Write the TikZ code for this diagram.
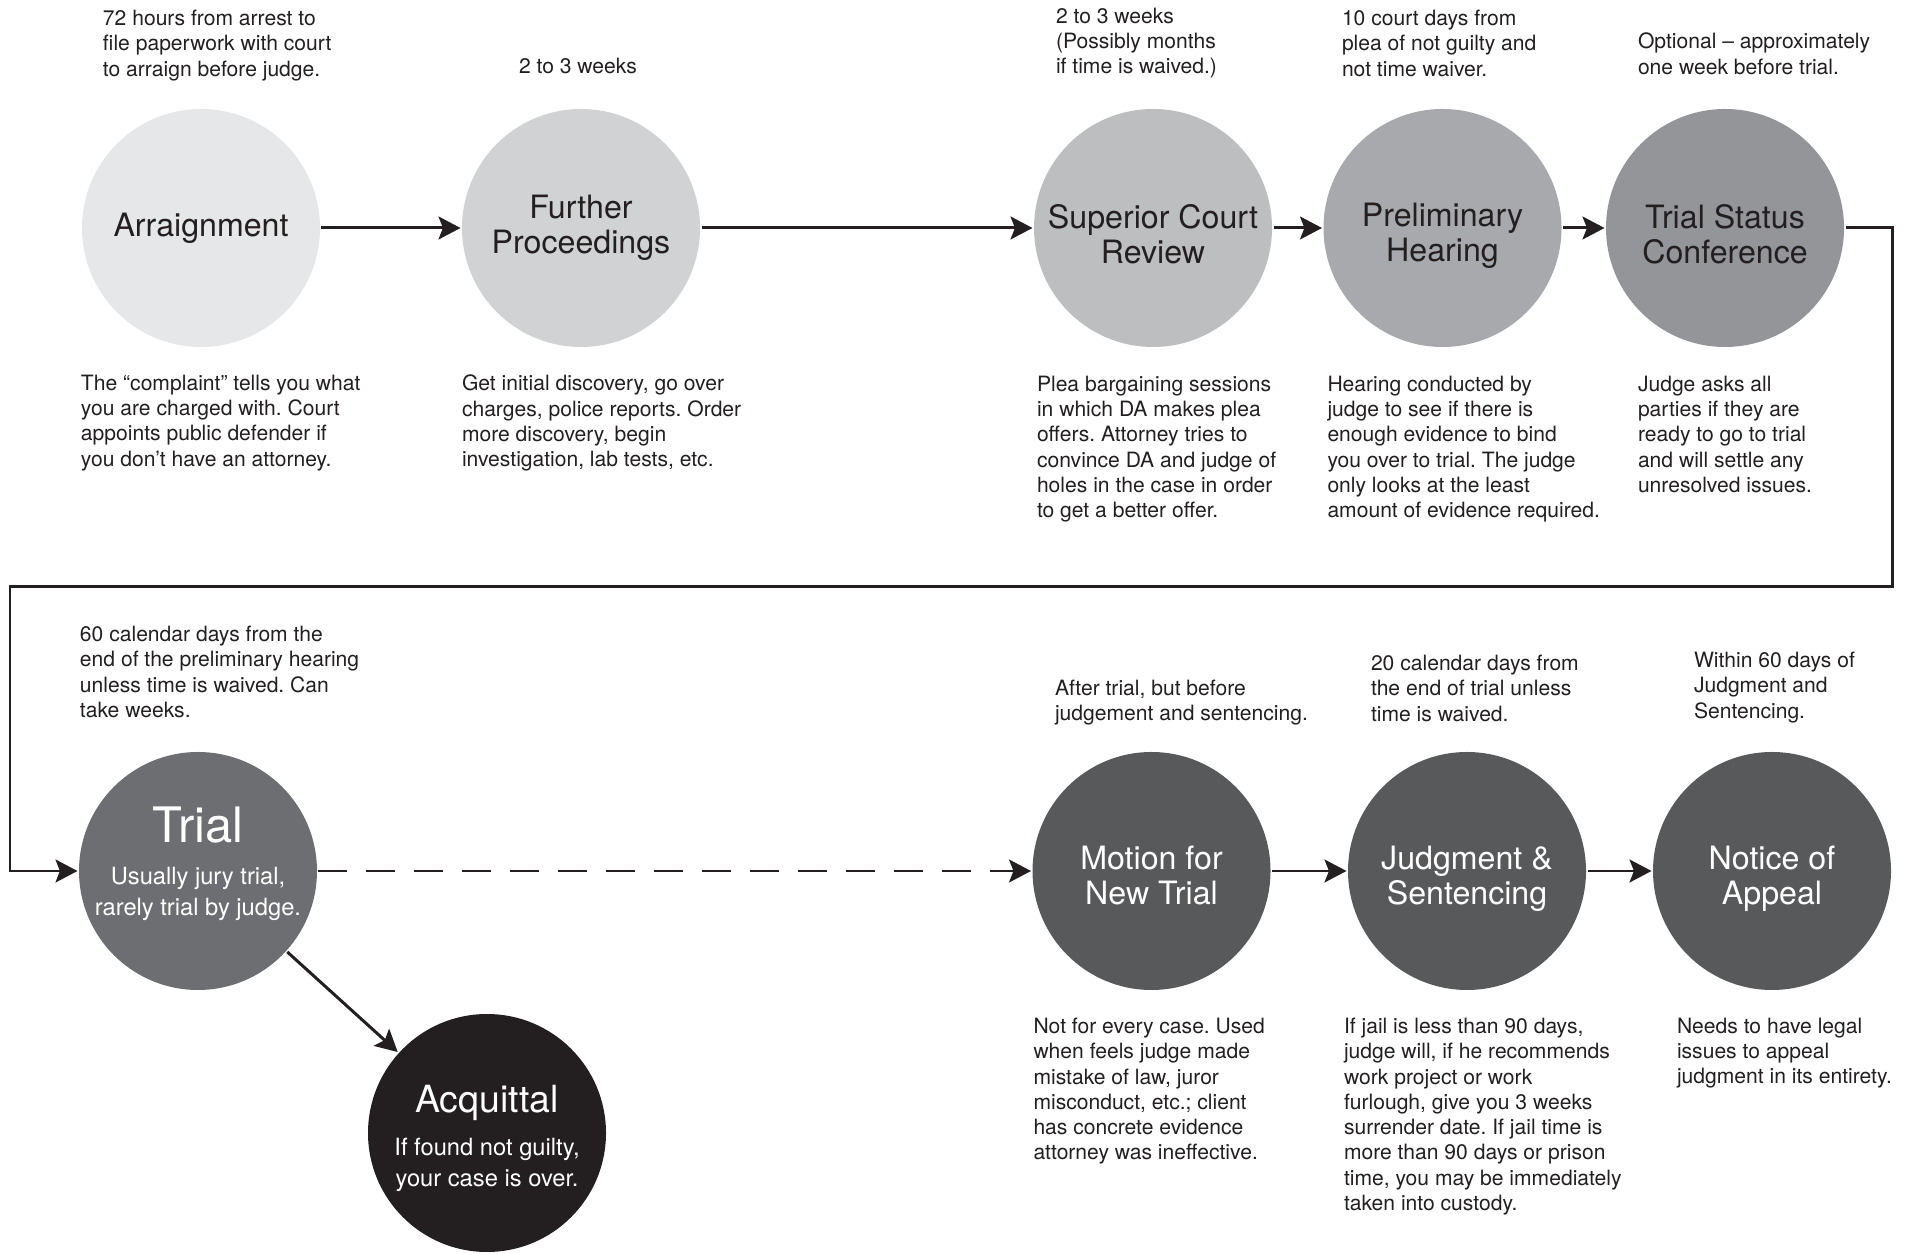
\documentclass[tikz,border=0pt]{standalone}
\usepackage{fontspec}
\setmainfont{TeX Gyre Heros}
\usepackage{tikz}
\usetikzlibrary{arrows.meta}
\frenchspacing
\definecolor{ink}{HTML}{231F20}
\definecolor{tint10}{HTML}{E6E7E8}
\definecolor{tint20}{HTML}{D1D2D4}
\definecolor{tint30}{HTML}{BCBEC0}
\definecolor{tint40}{HTML}{A7A9AC}
\definecolor{tint50}{HTML}{939598}
\definecolor{tint70}{HTML}{6D6E71}
\definecolor{tint80}{HTML}{58595B}
\tikzset{
	stage/.style={circle,inner sep=0pt,minimum size=4.76cm},
	title/.style={inner sep=0pt,align=center,text=ink,font=\fontsize{18.3}{19.9}\selectfont},
	light title/.style={title,text=white},
	note/.style={anchor=north west,inner sep=0pt,align=left,text=ink,xshift=-0.03cm,yshift=0.05cm,
		font=\fontsize{12}{14.4}\selectfont},
	sub text/.style={inner sep=0pt,align=center,text=white,
		font=\fontsize{13.5}{17.6}\selectfont}
}

\begin{document}
\begin{tikzpicture}[->,>={Stealth[length=12.5pt,width=13pt,inset=2.5pt]},
	    line width=1.7pt,color=ink]
	    \useasboundingbox (0,0) rectangle (38.14,25.06);
	    % top row
	    \node [stage,fill=tint10] (arraign) at (4.02,20.5) {};
	    \node [stage,fill=tint20] (further) at (11.62,20.5) {};
	    \node [stage,fill=tint30] (superior) at (23.06,20.5) {};
	    \node [stage,fill=tint40] (prelim) at (28.85,20.5) {};
	    \node [stage,fill=tint50] (status) at (34.50,20.5) {};
	    \node [title] (arraign title) at (arraign.center) {Arraignment};
	    \node [title] (further title) at (further.center) {Further\\Proceedings};
	    \node [title] (superior title) at ([yshift=-0.13cm]superior.center) {Superior Court\\Review};
	    \node [title] (prelim title) at ([yshift=-0.15cm]prelim.center) {Preliminary\\Hearing};
	    \node [title] (status title) at ([yshift=-0.13cm]status.center) {Trial Status\\Conference};
	    % bottom row
	    \node [stage,fill=tint70] (trial) at (3.96,7.64) {};
	    \node [stage,fill=ink] (acquittal) at (9.74,2.40) {};
	    \node [stage,fill=tint80] (motion) at (23.03,7.64) {};
	    \node [stage,fill=tint80] (judgment) at (29.34,7.64) {};
	    \node [stage,fill=tint80] (appeal) at (35.44,7.64) {};
	    \node [light title,font=\fontsize{27.8}{30}\selectfont] (trial title) at ([yshift=0.91cm]trial.center) {Trial};
	    \node [sub text] (trial sub) at ([yshift=-0.46cm]trial.center) {Usually jury trial,\\rarely trial by judge.};
	    \node [light title,font=\fontsize{21.3}{24}\selectfont] (acquittal title) at ([yshift=0.61cm]acquittal.center) {Acquittal};
	    \node [sub text] (acquittal sub) at ([yshift=-0.64cm]acquittal.center) {If found not guilty,\\your case is over.};
	    \node [light title] (motion title) at ([yshift=-0.09cm]motion.center) {Motion for\\New Trial};
	    \node [light title] (judgment title) at ([yshift=-0.16cm]judgment.center) {Judgment \&\\Sentencing};
	    \node [light title] (appeal title) at ([yshift=-0.16cm]appeal.center) {Notice of\\Appeal};
	    % timing notes
	    \node [note] (arraign time) at (2.06,24.84) {72 hours from arrest to\\file paperwork with court\\to arraign before judge.};
	    \node [note] (further time) at (10.38,23.88) {2 to 3 weeks};
	    \node [note] (superior time) at (21.12,24.88) {2 to 3 weeks\\(Possibly months\\if time is waived.)};
	    \node [note] (prelim time) at (26.84,24.84) {10 court days from\\plea of not guilty and\\not time waiver.};
	    \node [note] (status time) at (32.76,24.38) {Optional – approximately\\one week before trial.};
	    \node [note] (trial time) at (1.60,12.52) {60 calendar days from the\\end of the preliminary hearing\\unless time is waived. Can\\take weeks.};
	    \node [note] (motion time) at (21.10,11.44) {After trial, but before\\judgement and sentencing.};
	    \node [note] (judgment time) at (27.42,11.94) {20 calendar days from\\the end of trial unless\\time is waived.};
	    \node [note] (appeal time) at (33.88,12.00) {Within 60 days of\\Judgment and\\Sentencing.};
	    % descriptions
	    \node [note] (arraign text) at (1.62,17.54) {The “complaint” tells you what\\you are charged with. Court\\appoints public defender if\\you don’t have an attorney.};
	    \node [note] (further text) at (9.24,17.54) {Get initial discovery, go over\\charges, police reports. Order\\more discovery, begin\\investigation, lab tests, etc.};
	    \node [note] (superior text) at (20.74,17.52) {Plea bargaining sessions\\in which DA makes plea\\offers. Attorney tries to\\convince DA and judge of\\holes in the case in order\\to get a better offer.};
	    \node [note] (prelim text) at (26.55,17.52) {Hearing conducted by\\judge to see if there is\\enough evidence to bind\\you over to trial. The judge\\only looks at the least\\amount of evidence required.};
	    \node [note] (status text) at (32.76,17.52) {Judge asks all\\parties if they are\\ready to go to trial\\and will settle any\\unresolved issues.};
	    \node [note] (motion text) at (20.67,4.68) {Not for every case. Used\\when feels judge made\\mistake of law, juror\\misconduct, etc.; client\\has concrete evidence\\attorney was ineffective.};
	    \node [note] (judgment text) at (26.88,4.68) {If jail is less than 90 days,\\judge will, if he recommends\\work project or work\\furlough, give you 3 weeks\\surrender date. If jail time is\\more than 90 days or prison\\time, you may be immediately\\taken into custody.};
	    \node [note] (appeal text) at (33.54,4.68) {Needs to have legal\\issues to appeal\\judgment in its entirety.};
	    % connectors
	    \coordinate (loop right) at (37.84,13.32);
	    \coordinate (loop left) at (0.2,7.64);
	    \draw (arraign) -- (further);
	    \draw (further) -- (superior);
	    \draw (superior) -- (prelim);
	    \draw (prelim) -- (status);
	    \draw (status) -| (loop right) -| (loop left) -- (trial);
	    \draw [dash pattern=on 16.5pt off 10.8pt] (trial) -- (motion);
	    \draw (motion) -- (judgment);
	    \draw (judgment) -- (appeal);
	    \draw (trial) -- (acquittal);
	  \end{tikzpicture}
\end{document}
